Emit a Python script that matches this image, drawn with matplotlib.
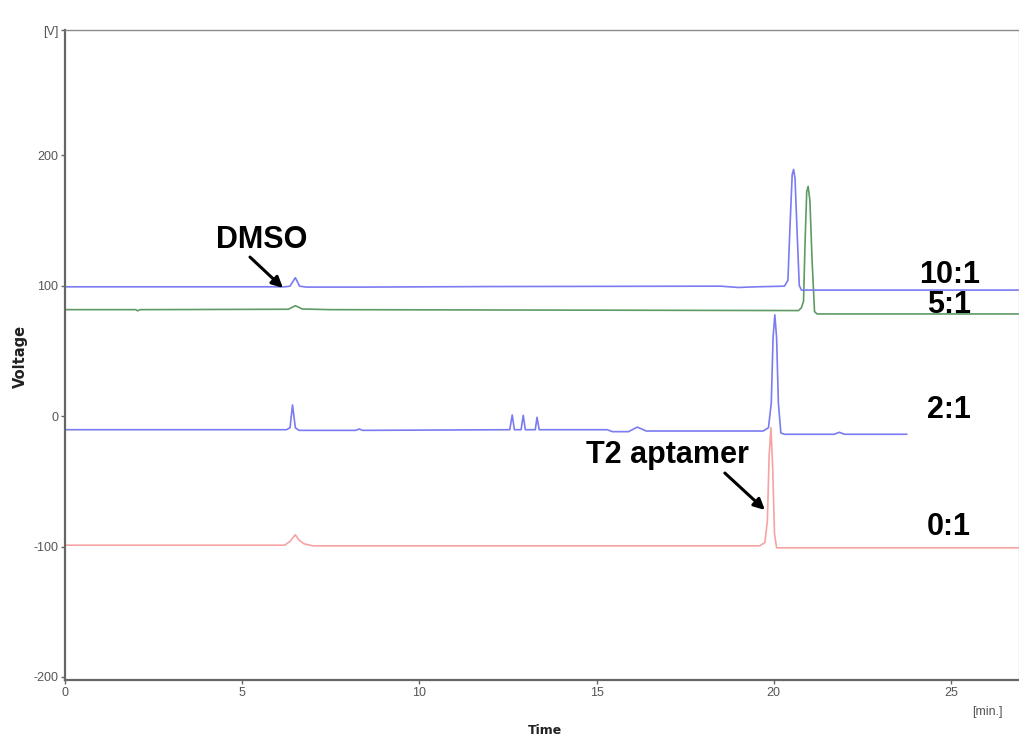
import matplotlib
matplotlib.use("Agg")
import matplotlib.pyplot as plt

# chromatogram traces, (time [min], signal [V])
t_10_1 = [0.0, 6.2, 6.35, 6.5, 6.62, 6.8, 8.5, 12.0, 18.5, 19.0, 19.5, 20.3, 20.4, 20.45, 20.52, 20.56,
          20.6, 20.66, 20.72, 20.78, 26.92]
v_10_1 = [99.0, 99.0, 99.5, 106.0, 99.5, 98.8, 98.8, 99.2, 99.5, 98.5, 99.0, 99.5, 104.0, 140.0, 185.0, 189.0,
          182.0, 140.0, 100.0, 96.5, 96.5]

t_5_1 = [0.0, 2.0, 2.05, 2.12, 6.3, 6.5, 6.7, 7.5, 20.7, 20.78, 20.84, 20.88, 20.93, 20.97, 21.02, 21.08,
         21.15, 21.22, 26.92]
v_5_1 = [81.5, 81.5, 80.6, 81.5, 81.8, 84.5, 82.0, 81.5, 80.8, 83.0, 88.0, 130.0, 172.0, 176.0, 165.0, 120.0,
         80.0, 78.2, 78.2]

t_2_1 = [0.0, 6.25, 6.35, 6.42, 6.5, 6.6, 8.2, 8.3, 8.4, 12.55, 12.62, 12.68, 12.87, 12.93, 12.99, 13.27,
         13.32, 13.38, 15.3, 15.45, 15.9, 16.15, 16.4, 19.7, 19.85, 19.93, 19.98, 20.03, 20.08, 20.13, 20.2,
         20.3, 21.7, 21.85, 22.0, 23.75]
v_2_1 = [-10.5, -10.5, -9.0, 8.5, -9.0, -11.0, -11.0, -10.0, -11.0, -10.5, 0.8, -10.5, -10.5, 0.5, -10.5, -10.5,
         -1.0, -10.5, -10.5, -12.0, -12.0, -8.5, -11.5, -11.5, -9.0, 10.0, 60.0, 77.5, 60.0, 10.0, -13.0,
         -14.0, -14.0, -12.5, -14.0, -14.0]

t_0_1 = [0.0, 6.2, 6.35, 6.5, 6.6, 6.75, 7.0, 19.6, 19.75, 19.82, 19.87, 19.92, 19.97, 20.02, 20.08, 26.92]
v_0_1 = [-99.0, -99.0, -96.0, -91.0, -95.0, -98.0, -99.5, -99.5, -97.0, -80.0, -30.0, -9.0, -40.0, -90.0,
         -101.0, -101.0]

ratio_labels = ["10:1", "5:1", "2:1", "0:1"]
ratio_label_y = [108, 85, 4.6, -85]

y_ticks = [-200, -100, 0, 100, 200]
x_ticks = [0, 5, 10, 15, 20, 25]

x_max = 26.92
y_min, y_max = -202.3, 295.8

fig = plt.figure(figsize=(10.19, 7.38), dpi=100)
ax = fig.add_axes([65 / 1019, 1 - 680 / 738, 1 - 65 / 1019, 650 / 738])

ax.plot(t_0_1, v_0_1, color="#f5a3a3", lw=1.2)
ax.plot(t_2_1, v_2_1, color="#7b7bf2", lw=1.2)
ax.plot(t_5_1, v_5_1, color="#5f9a62", lw=1.2)
ax.plot(t_10_1, v_10_1, color="#7b7bf2", lw=1.2)

ax.set_xlim(0, x_max)
ax.set_ylim(y_min, y_max)

tick_font = dict(family="Liberation Sans", size=9, color="#555555")
ax.set_xticks(x_ticks)
ax.set_xticklabels([str(x) for x in x_ticks], **tick_font)
ax.set_yticks(y_ticks + [y_max])
ax.set_yticklabels([str(y) for y in y_ticks] + ["[V]"], **tick_font)
ax.tick_params(axis="both", direction="out", length=3, width=1, color="#666666", pad=2)

for side in ["left", "bottom"]:
    ax.spines[side].set_color("#666666")
    ax.spines[side].set_linewidth(1.6)
ax.spines["top"].set_color("#8a8a8a")
ax.spines["top"].set_linewidth(1.0)
ax.spines["right"].set_color("#d0d0d0")
ax.spines["right"].set_linewidth(1.0)

fig.text(987 / 1019, 1 - 712 / 738, "[min.]", ha="center", va="center", **tick_font)
fig.text(545 / 1019, 1 - 730 / 738, "Time", ha="center", va="center",
         family="DejaVu Sans", weight="bold", size=9, color="#222222")
fig.text(20 / 1019, 1 - 356 / 738, "Voltage", ha="center", va="center", rotation=90,
         family="DejaVu Sans", weight="bold", size=10.5, color="#222222")

label_font = dict(family="Liberation Sans", weight="bold", size=22, color="black")
for txt, yv in zip(ratio_labels, ratio_label_y):
    ax.text(24.95, yv, txt, ha="center", va="center", **label_font)

# peak annotations: label text plus an arrow from tail to head
arrow_style = dict(arrowstyle="-|>", color="black", lw=2.2, mutation_scale=16, shrinkA=0, shrinkB=0)
ax.text(5.56, 134.9, "DMSO", ha="center", va="center", **label_font)
ax.annotate("", xy=(6.15, 98.1), xytext=(5.22, 121.8), arrowprops=arrow_style)
ax.text(16.99, -29.9, "T2 aptamer", ha="center", va="center", **label_font)
ax.annotate("", xy=(19.75, -72), xytext=(18.62, -43.7), arrowprops=arrow_style)

fig.savefig("out.png", dpi=100)
